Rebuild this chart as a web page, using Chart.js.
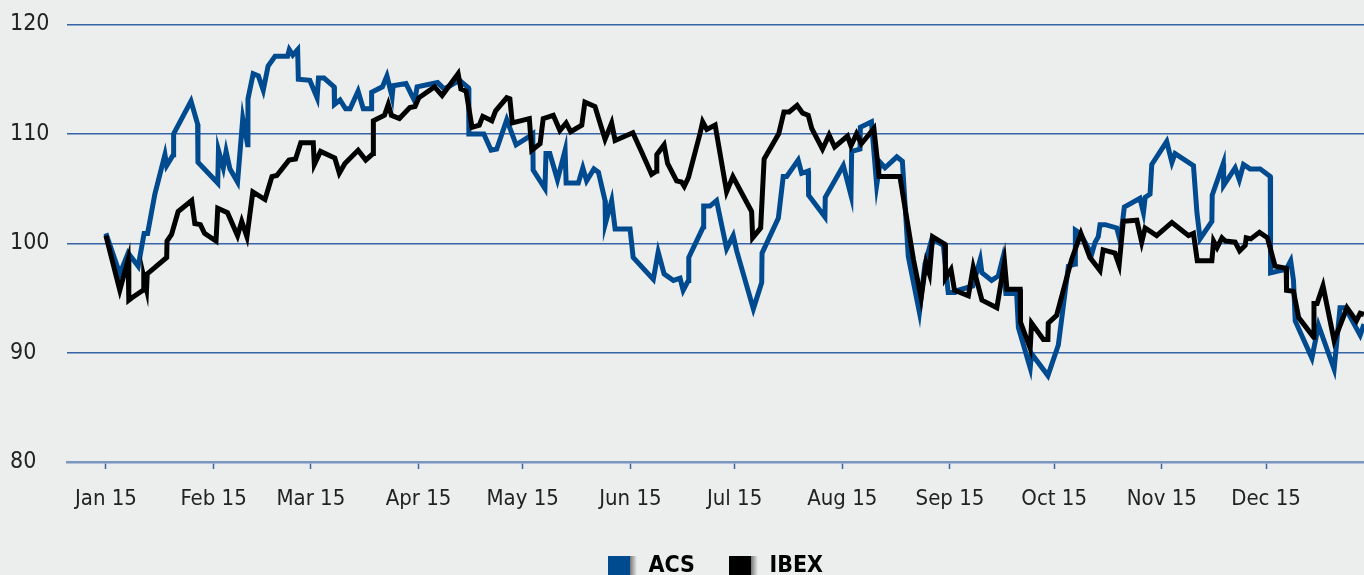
<!DOCTYPE html>
<html>
<head>
<meta charset="utf-8">
<script src="https://cdn.jsdelivr.net/npm/chart.js@4"></script>
<style>
  html, body { margin: 0; padding: 0; background: #eceeee; width: 1364px; height: 575px; overflow: hidden; }
  #clip { width: 1364px; height: 575px; overflow: hidden; position: relative; }
  canvas { display: block; }
</style>
</head>
<body>
<div id="clip"><canvas id="c" width="1364" height="588"></canvas></div>
<script>
// x values are day-of-year (Jan 15 = 15)
const tickDays = [15, 46, 74, 105, 135, 166, 196, 227, 258, 288, 319, 349];
const tickLabels = ['Jan 15', 'Feb 15', 'Mar 15', 'Apr 15', 'May 15', 'Jun 15', 'Jul 15', 'Aug 15', 'Sep 15', 'Oct 15', 'Nov 15', 'Dec 15'];
const yTicks = [80, 90, 100, 110, 120];

const acsDays = [15.0,19.0,21.4,24.3,26.0,27.0,29.1,32.0,32.5,34.4,34.5,39.5,41.4,41.5,47.2,47.4,48.8,49.6,50.7,52.9,54.4,55.8,55.9,57.4,58.9,60.3,61.7,63.7,67.3,67.8,68.8,70.2,70.4,73.7,75.8,76.2,77.8,80.7,80.8,82.4,84.0,85.3,87.6,89.1,91.4,91.5,94.6,95.9,97.4,97.7,101.4,103.9,104.6,110.5,112.4,116.8,119.4,119.5,123.8,125.9,127.5,130.4,133.1,136.6,137.9,138.0,141.4,141.7,142.8,145.0,147.2,147.5,151.0,152.3,153.4,155.5,156.8,158.7,158.8,160.6,161.6,165.9,166.8,172.6,174.0,175.7,178.4,180.3,181.2,182.7,182.8,187.0,187.1,188.9,190.8,193.7,195.6,196.6,201.4,203.8,203.9,208.6,210.0,211.0,214.3,215.3,217.2,217.3,222.0,222.1,227.3,229.5,229.7,232.1,232.2,235.4,236.9,237.9,239.3,242.7,244.3,246.0,249.2,250.8,252.8,256.1,257.5,259.5,260.3,264.6,266.7,267.2,270.0,271.9,273.1,274.1,277.2,277.7,281.1,281.5,286.2,289.2,292.1,294.0,294.1,295.5,298.8,299.8,300.7,301.2,302.7,306.0,307.0,308.2,312.7,313.7,314.2,315.6,316.1,320.4,321.9,322.8,328.1,329.1,330.0,333.4,333.5,336.7,336.8,340.1,341.3,342.5,344.4,347.3,350.2,350.3,353.1,354.8,356.1,356.9,357.4,362.2,364.1,368.6,370.3,371.8,376.1,377.2];
const acsValues = [100.9,97.2,99.1,97.9,100.9,100.9,104.5,108.1,107.1,108.1,110.0,113.0,110.9,107.4,105.5,108.5,106.9,108.4,106.8,105.6,111.4,109.0,113.2,115.5,115.3,114.0,116.2,117.1,117.1,117.7,117.2,117.7,115.0,114.9,113.3,115.1,115.1,114.3,112.7,113.1,112.3,112.3,113.9,112.3,112.3,113.8,114.3,115.3,113.4,114.4,114.6,113.0,114.3,114.7,114.1,114.9,114.2,110.0,110.0,108.5,108.6,111.3,109.0,109.7,110.0,106.7,105.0,108.2,108.2,105.8,108.5,105.5,105.5,106.9,105.7,106.8,106.5,103.9,101.8,103.9,101.3,101.3,98.7,96.7,99.2,97.2,96.6,96.8,95.7,96.6,98.7,101.5,103.4,103.4,103.9,99.5,100.7,99.3,94.0,96.4,99.1,102.3,106.1,106.1,107.6,106.4,106.6,104.4,102.4,104.2,107.1,104.4,108.4,108.6,110.6,111.1,105.3,107.4,106.9,107.9,107.5,98.8,93.7,98.1,100.4,99.8,95.5,95.5,95.7,96.1,98.5,97.3,96.6,97.0,98.5,95.4,95.4,92.3,88.6,89.9,87.9,90.7,97.9,98.1,101.2,100.9,99.0,100.1,100.6,101.7,101.7,101.4,100.2,103.3,104.1,102.8,104.2,104.5,107.2,109.3,107.4,108.2,107.1,102.8,100.4,102.0,104.4,107.3,105.3,106.9,105.8,107.2,106.8,106.8,106.1,97.3,97.5,97.6,98.4,96.6,92.9,89.5,92.5,88.5,94.1,94.1,91.6,92.6];

const ibexDays = [15.0,19.0,21.4,21.6,22.4,25.7,25.9,26.7,26.9,32.5,32.6,33.9,35.8,39.7,40.6,42.2,43.4,46.7,47.2,50.0,52.9,54.1,55.6,57.3,60.8,62.8,64.2,67.7,69.6,71.1,74.7,75.0,76.8,80.9,82.2,83.8,87.6,89.8,91.9,92.0,95.2,96.3,97.2,99.5,102.5,104.0,105.1,109.6,111.8,116.4,117.2,118.7,120.4,122.5,123.5,126.1,127.2,130.4,131.3,132.0,136.9,137.6,140.0,140.9,143.8,145.7,147.5,148.8,152.0,152.9,155.8,158.7,160.6,161.6,166.7,169.3,172.1,173.5,173.6,175.7,176.7,179.3,180.7,181.5,182.7,186.1,186.8,188.0,190.4,193.7,195.5,200.9,201.2,203.5,204.5,208.7,210.2,211.7,214.0,215.6,217.2,218.2,221.3,223.2,224.8,228.5,229.5,231.1,232.5,236.1,237.6,243.6,247.5,249.7,251.1,252.1,253.0,256.6,256.7,258.3,259.3,263.3,264.7,267.2,271.5,273.7,274.4,278.2,278.3,281.1,281.5,284.9,286.2,286.3,288.7,293.0,295.7,298.3,301.2,302.1,305.5,306.7,307.9,311.8,313.2,314.2,317.5,321.9,326.7,328.1,329.2,333.4,333.9,334.9,336.3,337.3,340.1,341.4,343.0,343.3,344.6,347.1,349.4,351.6,354.8,354.9,356.9,358.4,362.7,362.8,363.7,365.4,368.6,372.3,375.0,376.1,377.2];
const ibexValues = [100.7,95.7,98.5,94.8,95.0,95.7,96.9,95.8,97.2,98.7,100.2,100.8,102.9,103.9,101.8,101.7,100.9,100.2,103.2,102.8,100.7,102.0,100.6,104.7,104.0,106.1,106.2,107.6,107.7,109.2,109.2,107.2,108.4,107.8,106.4,107.3,108.5,107.6,108.2,111.2,111.7,112.7,111.7,111.4,112.4,112.5,113.3,114.3,113.5,115.5,114.1,113.9,110.6,110.8,111.6,111.2,112.1,113.3,113.2,111.0,111.4,108.5,109.1,111.4,111.7,110.3,111.0,110.2,110.8,112.9,112.5,109.5,111.0,109.4,110.1,108.3,106.3,106.6,108.1,109.0,107.3,105.7,105.6,105.2,106.0,110.1,111.1,110.4,110.8,104.7,106.1,102.9,100.5,101.4,107.7,110.0,112.0,112.0,112.6,111.9,111.7,110.5,108.6,109.9,108.8,109.8,108.9,110.0,109.1,110.5,106.1,106.1,98.5,95.0,98.2,97.2,100.6,99.9,96.8,97.6,95.7,95.2,97.8,94.8,94.1,98.3,95.8,95.8,92.8,90.4,92.7,91.2,91.2,92.7,93.4,98.5,100.9,98.7,97.5,99.4,99.1,98.0,102.0,102.1,100.1,101.4,100.7,101.9,100.7,100.9,98.4,98.4,100.2,99.6,100.5,100.2,100.1,99.3,99.8,100.5,100.4,101.0,100.5,97.9,97.7,95.7,95.6,93.2,91.4,94.5,94.5,96.1,91.1,94.1,92.9,93.6,93.5];

const seriesNames = ['ACS', 'IBEX'];
const seriesColors = ['#004a8f', '#000000'];

const FONT = "'Liberation Sans Narrow', 'DejaVu Sans Condensed', 'Arial Narrow', sans-serif";

function legendSwatch(color) {
  const c = document.createElement('canvas');
  c.width = 29; c.height = 22;
  const g = c.getContext('2d');
  const grad = g.createLinearGradient(22, 0, 29, 0);
  grad.addColorStop(0, '#777777');
  grad.addColorStop(1, '#eceeee');
  g.fillStyle = grad;
  g.fillRect(22, 0, 7, 22);
  g.fillStyle = color;
  g.fillRect(0, 0, 22, 22);
  return c;
}
const swatches = seriesColors.map(legendSwatch);

const toPoints = (xs, ys) => xs.map((x, i) => ({ x: x, y: ys[i] }));

new Chart(document.getElementById('c'), {
  type: 'line',
  data: {
    datasets: [
      { label: seriesNames[0], data: toPoints(acsDays, acsValues), borderColor: seriesColors[0], backgroundColor: seriesColors[0], borderWidth: 5, pointRadius: 0, tension: 0, order: 1 },
      { label: seriesNames[1], data: toPoints(ibexDays, ibexValues), borderColor: seriesColors[1], backgroundColor: seriesColors[1], borderWidth: 5, pointRadius: 0, tension: 0, order: 0 }
    ]
  },
  options: {
    responsive: false,
    animation: false,
    devicePixelRatio: 1,
    layout: { padding: { left: 10, top: 24.5, right: 0, bottom: 0 } },
    plugins: {
      tooltip: { enabled: false },
      legend: {
        position: 'bottom',
        fullSize: false,
        labels: {
          usePointStyle: true,
          pointStyleWidth: 29,
          boxHeight: 22,
          padding: 34,
          color: '#000000',
          font: { family: FONT, size: 23, weight: 'bold' },
          generateLabels(chart) {
            const items = Chart.defaults.plugins.legend.labels.generateLabels(chart);
            items.sort((a, b) => a.datasetIndex - b.datasetIndex);
            items.forEach(it => { it.pointStyle = swatches[it.datasetIndex]; });
            return items;
          }
        }
      }
    },
    scales: {
      x: {
        type: 'linear',
        min: 3.8,
        max: 377.2,
        afterBuildTicks(scale) { scale.ticks = tickDays.map(v => ({ value: v })); },
        afterFit(scale) { scale.height = 59; },
        ticks: {
          autoSkip: false,
          maxRotation: 0,
          padding: 17.5,
          color: '#222222',
          font: { family: FONT, size: 22 },
          callback: (v) => tickLabels[tickDays.indexOf(v)]
        },
        grid: { drawOnChartArea: false, drawTicks: true, tickLength: 7, tickColor: '#3a67a3', tickWidth: 1.5 },
        border: { display: true, color: '#7b97bf', width: 2.5 }
      },
      y: {
        min: 80,
        max: 120,
        afterBuildTicks(scale) { scale.ticks = yTicks.map(v => ({ value: v })); },
        afterFit(scale) { scale.width = 57; },
        ticks: {
          crossAlign: 'far',
          color: '#222222',
          font: { family: FONT, size: 23 }
        },
        grid: {
          drawTicks: false,
          lineWidth: 1.5,
          color: (ctx) => (ctx.tick && ctx.tick.value === 80) ? 'rgba(0,0,0,0)' : '#3565a5'
        },
        border: { display: false }
      }
    }
  }
});
</script>
</body>
</html>
